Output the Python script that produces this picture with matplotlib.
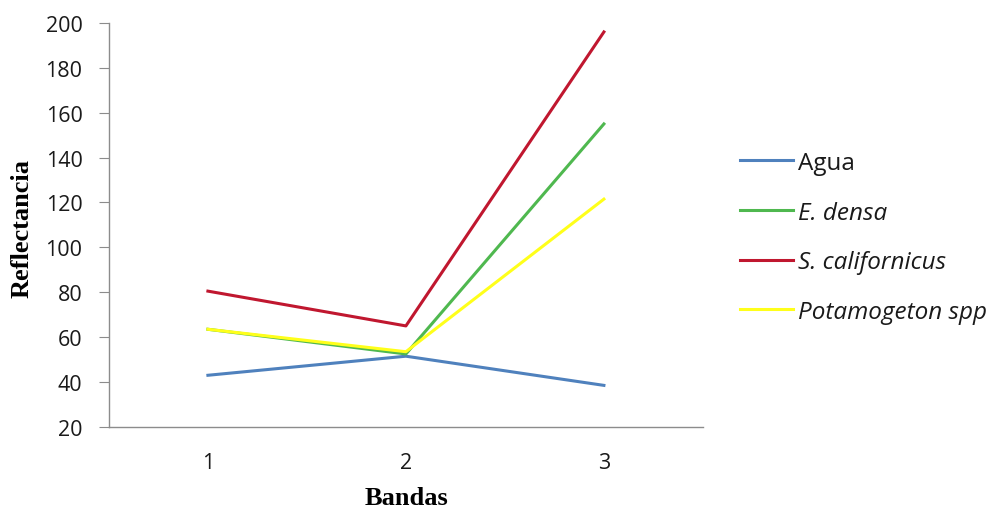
import matplotlib
matplotlib.use("Agg")
import matplotlib.pyplot as plt

# reflectance per band for each cover type
bandas = [1, 2, 3]
agua = [43, 51.5, 38.5]
e_densa = [63.5, 52.5, 155]
s_californicus = [80.5, 65, 196]
potamogeton = [63.5, 53.5, 121.5]

series = [
    (agua, "Agua", "#4f81bd", "normal"),
    (e_densa, "E. densa", "#4fb84f", "italic"),
    (s_californicus, "S. californicus", "#c0172f", "italic"),
    (potamogeton, "Potamogeton spp", "#ffff1a", "italic"),
]

fig = plt.figure(figsize=(9.9, 5.1), dpi=100)
ax = fig.add_axes([0.110, 0.161, 0.600, 0.792])

for vals, name, color, style in series:
    ax.plot(bandas, vals, color=color, lw=2.2, label=name)

ax.set_xlim(0.5, 3.5)
ax.set_ylim(20, 200)
ax.set_yticks(range(20, 201, 20))
ax.set_xticks(bandas)

for side in ["top", "right"]:
    ax.spines[side].set_visible(False)
for side in ["left", "bottom"]:
    ax.spines[side].set_color("#8c8c8c")
    ax.spines[side].set_linewidth(1.0)

ax.tick_params(axis="y", length=7, color="#8c8c8c", labelsize=15.5, pad=12)
ax.tick_params(axis="x", length=0, labelsize=15.5, pad=18)
for lab in ax.get_xticklabels() + ax.get_yticklabels():
    lab.set_fontfamily("Open Sans")
    lab.set_color("#1a1a1a")

fig.text(0.022, 0.551, "Reflectancia", rotation=90, ha="center", va="center",
         family="Liberation Serif", weight="bold", fontsize=19)
fig.text(0.411, 0.022, "Bandas", ha="center", va="center",
         family="Liberation Serif", weight="bold", fontsize=19)

leg = fig.legend(loc="upper left", bbox_to_anchor=(0.747, 0.702), frameon=False,
                 borderpad=0, borderaxespad=0,
                 handlelength=2.2, handletextpad=0.2, labelspacing=1.05,
                 prop={"family": "Open Sans", "size": 17.5})
for txt, (_, _, _, style) in zip(leg.get_texts(), series):
    txt.set_fontstyle(style)
    txt.set_color("#1a1a1a")

fig.savefig("out.png", dpi=100)
